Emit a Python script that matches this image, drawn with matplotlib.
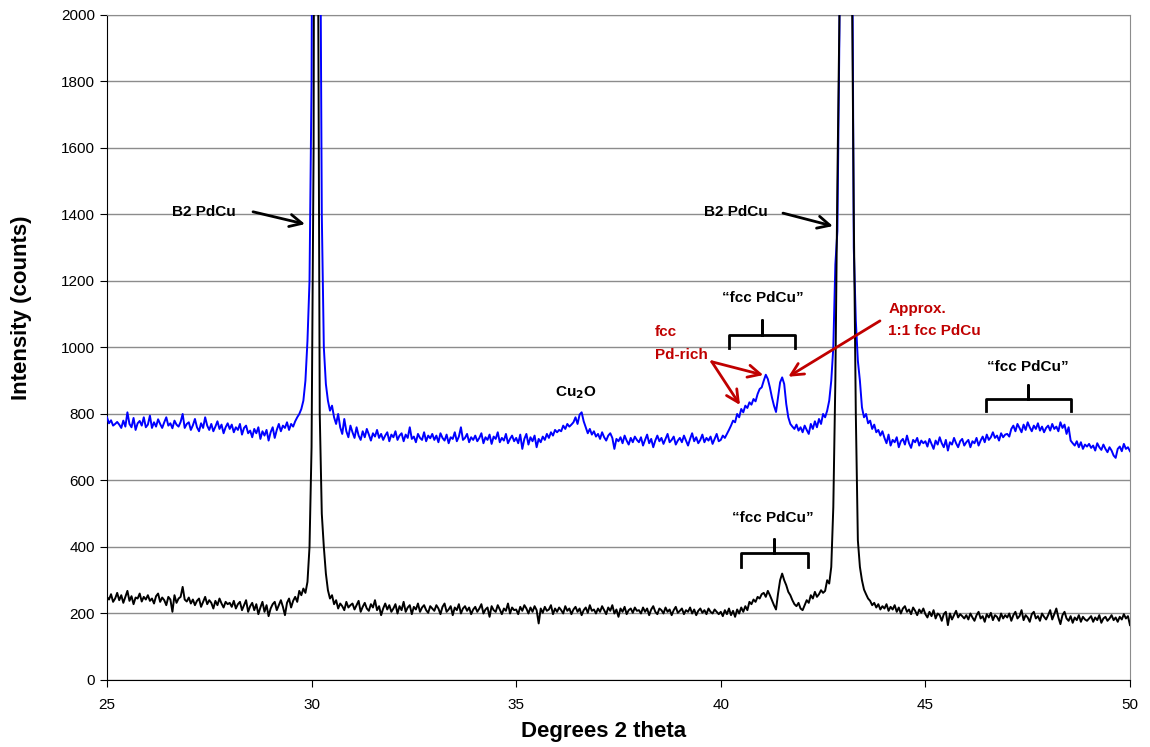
import numpy as np
import matplotlib
matplotlib.use('Agg')
import matplotlib.pyplot as plt

plt.rcParams['font.family'] = ['Liberation Sans', 'DejaVu Sans']

## scan goes 25 -> 50 deg in 0.05 steps, one row per degree (20 values)
two_theta = np.linspace(25, 50, 501)

blue_counts = [
    790, 772, 781, 765, 770, 776, 768, 758, 780, 762, 805, 770, 760, 788, 752, 772, 779, 765, 790, 760,   # 25
    768, 795, 758, 775, 762, 784, 770, 758, 775, 790, 765, 772, 757, 780, 768, 762, 776, 800, 758, 770,   # 26
    775, 752, 766, 785, 760, 748, 772, 758, 790, 765, 752, 770, 748, 762, 778, 755, 768, 742, 760, 772,   # 27
    755, 768, 745, 760, 752, 770, 738, 758, 765, 742, 750, 730, 755, 742, 760, 725, 748, 735, 752, 720,   # 28
    745, 760, 728, 752, 770, 748, 765, 758, 775, 752, 770, 762, 778, 790, 800, 815, 840, 900, 1020, 1200, # 29
    1800, 3500, 6000, 5200, 2600, 1400, 1000, 890, 840, 810, 825, 790, 770, 800, 760, 740, 785, 748, 730, 765,  # 30
    745, 728, 760, 735, 722, 748, 730, 755, 738, 720, 742, 732, 752, 728, 740, 722, 735, 745, 718, 738,   # 31
    730, 748, 722, 735, 742, 718, 738, 728, 760, 725, 732, 715, 740, 728, 722, 745, 718, 735, 727, 740,   # 32
    722, 735, 715, 742, 728, 720, 738, 712, 730, 725, 745, 718, 732, 760, 722, 728, 740, 715, 730, 722,   # 33
    735, 718, 728, 742, 712, 730, 722, 738, 710, 732, 725, 745, 715, 728, 720, 740, 712, 725, 735, 718,   # 34
    728, 712, 738, 695, 725, 740, 708, 730, 718, 735, 700, 725, 715, 732, 722, 740, 728, 745, 735, 752,   # 35
    745, 752, 748, 765, 755, 770, 762, 768, 775, 790, 770, 798, 805, 778, 760, 742, 755, 738, 748, 732,   # 36
    740, 725, 745, 730, 720, 735, 742, 728, 695, 725, 718, 730, 712, 735, 720, 708, 728, 715, 732, 722,   # 37
    715, 730, 705, 722, 738, 712, 725, 700, 720, 735, 718, 728, 710, 725, 740, 715, 722, 732, 708, 720,   # 38
    728, 715, 735, 720, 705, 725, 742, 718, 730, 712, 722, 738, 715, 728, 720, 732, 710, 725, 740, 718,   # 39
    722, 735, 728, 740, 752, 765, 780, 775, 800, 790, 815, 805, 825, 818, 835, 828, 845, 838, 860, 875,   # 40
    880, 900, 918, 905, 880, 850, 825, 806, 850, 895, 910, 890, 830, 790, 770, 762, 755, 768, 750, 760,   # 41
    745, 765, 752, 740, 770, 755, 778, 760, 785, 770, 800, 790, 810, 840, 900, 1000, 1250, 1350, 1950, 3500,  # 42
    6000, 6500, 5500, 4000, 2600, 1300, 1080, 960, 900, 820, 790, 800, 772, 780, 755, 768, 745, 752, 735, 748,  # 43
    728, 712, 738, 705, 722, 715, 730, 700, 718, 725, 708, 735, 712, 698, 722, 715, 728, 705, 720, 712,   # 44
    718, 702, 725, 710, 695, 720, 708, 730, 712, 700, 722, 690, 715, 708, 728, 712, 700, 718, 725, 705,   # 45
    715, 722, 700, 718, 712, 728, 705, 720, 732, 715, 738, 722, 730, 745, 728, 735, 720, 742, 730, 738,   # 46
    740, 732, 755, 765, 748, 770, 758, 745, 768, 752, 775, 760, 748, 765, 755, 772, 750, 762, 745, 758,   # 47
    765, 750, 770, 755, 762, 748, 775, 758, 768, 740, 760, 720, 712, 705, 718, 700, 715, 695, 708, 702,   # 48
    710, 698, 705, 690, 712, 700, 692, 708, 695, 685, 700, 690, 675, 668, 695, 702, 688, 710, 695, 700,   # 49
    688,
]

black_counts = [
    250, 242, 258, 235, 245, 262, 240, 255, 232, 250, 268, 238, 252, 228, 248, 245, 260, 236, 250, 242,   # 25
    255, 238, 245, 230, 252, 260, 235, 248, 240, 225, 250, 242, 205, 255, 232, 245, 250, 280, 242, 236,   # 26
    248, 230, 242, 225, 238, 245, 220, 235, 250, 228, 240, 232, 215, 238, 225, 245, 230, 218, 235, 228,   # 27
    232, 220, 238, 215, 228, 235, 210, 225, 240, 205, 222, 232, 210, 228, 198, 218, 235, 205, 225, 192,   # 28
    215, 228, 235, 210, 225, 240, 220, 195, 232, 245, 218, 238, 250, 235, 268, 255, 275, 262, 295, 400,   # 29
    700, 1600, 5000, 2500, 800, 500, 400, 320, 270, 245, 255, 228, 240, 215, 230, 222, 210, 235, 218, 225,  # 30
    230, 212, 225, 238, 205, 220, 232, 215, 208, 228, 218, 240, 210, 222, 195, 215, 230, 212, 225, 205,   # 31
    215, 228, 200, 222, 210, 235, 205, 218, 225, 198, 220, 212, 230, 205, 218, 225, 210, 202, 222, 215,   # 32
    208, 225, 215, 198, 220, 230, 205, 212, 222, 195, 218, 210, 228, 200, 215, 222, 208, 218, 198, 212,   # 33
    220, 205, 215, 228, 200, 212, 218, 190, 222, 210, 205, 225, 212, 198, 215, 208, 230, 200, 218, 210,   # 34
    212, 198, 220, 208, 225, 215, 200, 218, 205, 222, 210, 170, 215, 202, 220, 208, 212, 225, 198, 215,   # 35
    205, 218, 210, 200, 222, 208, 215, 198, 212, 220, 205, 215, 195, 210, 218, 202, 225, 208, 212, 200,   # 36
    215, 205, 222, 210, 198, 218, 208, 225, 200, 212, 190, 215, 205, 220, 198, 210, 215, 202, 218, 208,   # 37
    210, 200, 218, 205, 215, 195, 212, 222, 205, 198, 215, 210, 200, 218, 205, 212, 195, 210, 220, 202,   # 38
    208, 215, 198, 210, 205, 218, 200, 212, 195, 208, 215, 202, 210, 198, 215, 205, 200, 212, 205, 198,   # 39
    205, 192, 210, 198, 215, 195, 208, 190, 212, 200, 218, 205, 222, 210, 235, 228, 242, 235, 250, 245,   # 40
    258, 262, 250, 268, 255, 240, 225, 212, 260, 300, 320, 300, 285, 265, 255, 240, 228, 222, 232, 215,   # 41
    210, 225, 240, 232, 255, 245, 265, 250, 258, 270, 262, 268, 300, 290, 340, 520, 900, 1500, 2000, 3500,  # 42
    5500, 6000, 5000, 3500, 2200, 1400, 800, 420, 340, 300, 272, 258, 245, 238, 225, 232, 218, 228, 212, 222,  # 43
    215, 228, 208, 220, 212, 225, 205, 218, 200, 215, 222, 205, 212, 198, 218, 208, 195, 212, 202, 215,   # 44
    198, 188, 205, 192, 210, 185, 200, 195, 178, 198, 205, 165, 200, 182, 195, 208, 188, 198, 192, 185,   # 45
    195, 182, 200, 188, 178, 195, 205, 185, 192, 175, 198, 188, 202, 180, 195, 190, 178, 200, 185, 195,   # 46
    188, 200, 178, 195, 205, 185, 192, 210, 180, 195, 188, 175, 198, 205, 185, 192, 178, 200, 190, 182,   # 47
    195, 210, 182, 198, 215, 188, 168, 195, 205, 185, 178, 192, 172, 188, 180, 195, 175, 190, 182, 178,   # 48
    185, 192, 175, 188, 180, 195, 172, 185, 190, 178, 185, 195, 180, 188, 175, 190, 182, 198, 185, 192,   # 49
    165,
]

x_ticks = [25, 30, 35, 40, 45, 50]
y_ticks = [0, 200, 400, 600, 800, 1000, 1200, 1400, 1600, 1800, 2000]

red = '#C00000'


def bracket(ax, x0, x1, y, drop, rise):
    """curly-ish bracket: ends hang down by drop, centre tick goes up by rise"""
    xm = (x0 + x1) / 2
    ax.plot([x0, x0, xm, xm, xm, x1, x1], [y - drop, y, y, y + rise, y, y, y - drop],
            color='black', lw=2, solid_joinstyle='round', zorder=4)


fig = plt.figure(figsize=(11.5, 7.47), dpi=100)
ax = fig.add_axes([0.093, 0.0897, 0.8896, 0.8903])

ax.plot(two_theta, blue_counts, color='#0000FF', lw=1.4, zorder=3)
ax.plot(two_theta, black_counts, color='black', lw=1.4, zorder=3)

ax.set_xlim(25, 50)
ax.set_ylim(0, 2000)
ax.set_xticks(x_ticks)
ax.set_yticks(y_ticks)
ax.tick_params(labelsize=11, direction='out', length=5)
ax.tick_params(axis='x', pad=8)
ax.yaxis.grid(True, color='#8C8C8C', lw=1)
ax.set_axisbelow(True)
for s in ['top', 'right']:
    ax.spines[s].set_color('#8C8C8C')

ax.set_xlabel('Degrees 2 theta', fontsize=16, fontweight='bold')
ax.set_ylabel('Intensity (counts)', fontsize=16, fontweight='bold')
ax.xaxis.set_label_coords(0.485, -0.062)
ax.yaxis.set_label_coords(-0.073, 0.56)

## black labels + arrows for the B2 peaks
arrow_k = dict(arrowstyle='->', lw=2, color='black', mutation_scale=22, shrinkA=0, shrinkB=0)
ax.text(26.59, 1408, 'B2 PdCu', fontsize=11, fontweight='bold', va='center')
ax.annotate('', xy=(29.84, 1371), xytext=(28.57, 1408), arrowprops=arrow_k)
ax.text(39.59, 1408, 'B2 PdCu', fontsize=11, fontweight='bold', va='center')
ax.annotate('', xy=(42.74, 1365), xytext=(41.52, 1404), arrowprops=arrow_k)

ax.text(36.46, 863, r'Cu$_\mathbf{2}$O', fontsize=11, fontweight='bold',
        ha='center', va='center')

ax.text(41.02, 1149, '\u201cfcc PdCu\u201d', fontsize=11, fontweight='bold', ha='center', va='center')
ax.text(47.51, 942, '\u201cfcc PdCu\u201d', fontsize=11, fontweight='bold', ha='center', va='center')
ax.text(41.27, 487, '\u201cfcc PdCu\u201d', fontsize=11, fontweight='bold', ha='center', va='center')

bracket(ax, 40.21, 41.81, 1038, 40, 45)
bracket(ax, 46.48, 48.55, 845, 35, 42)
bracket(ax, 40.49, 42.12, 382, 41, 42)

## red annotations
ax.text(38.39, 1047, 'fcc', color=red, fontsize=11, fontweight='bold', va='center')
ax.text(38.39, 977, 'Pd-rich', color=red, fontsize=11, fontweight='bold', va='center')
arrow_r = dict(arrowstyle='->', lw=2, color=red, mutation_scale=22, shrinkA=0, shrinkB=0)
ax.annotate('', xy=(41.04, 917), xytext=(39.78, 957), arrowprops=arrow_r)
ax.annotate('', xy=(40.47, 827), xytext=(39.78, 957), arrowprops=arrow_r)

ax.text(44.09, 1116, 'Approx.', color=red, fontsize=11, fontweight='bold', va='center')
ax.text(44.09, 1050, '1:1 fcc PdCu', color=red, fontsize=11, fontweight='bold', va='center')
ax.annotate('', xy=(41.65, 912), xytext=(43.89, 1080), arrowprops=arrow_r)

fig.savefig('out.png', dpi=100)
